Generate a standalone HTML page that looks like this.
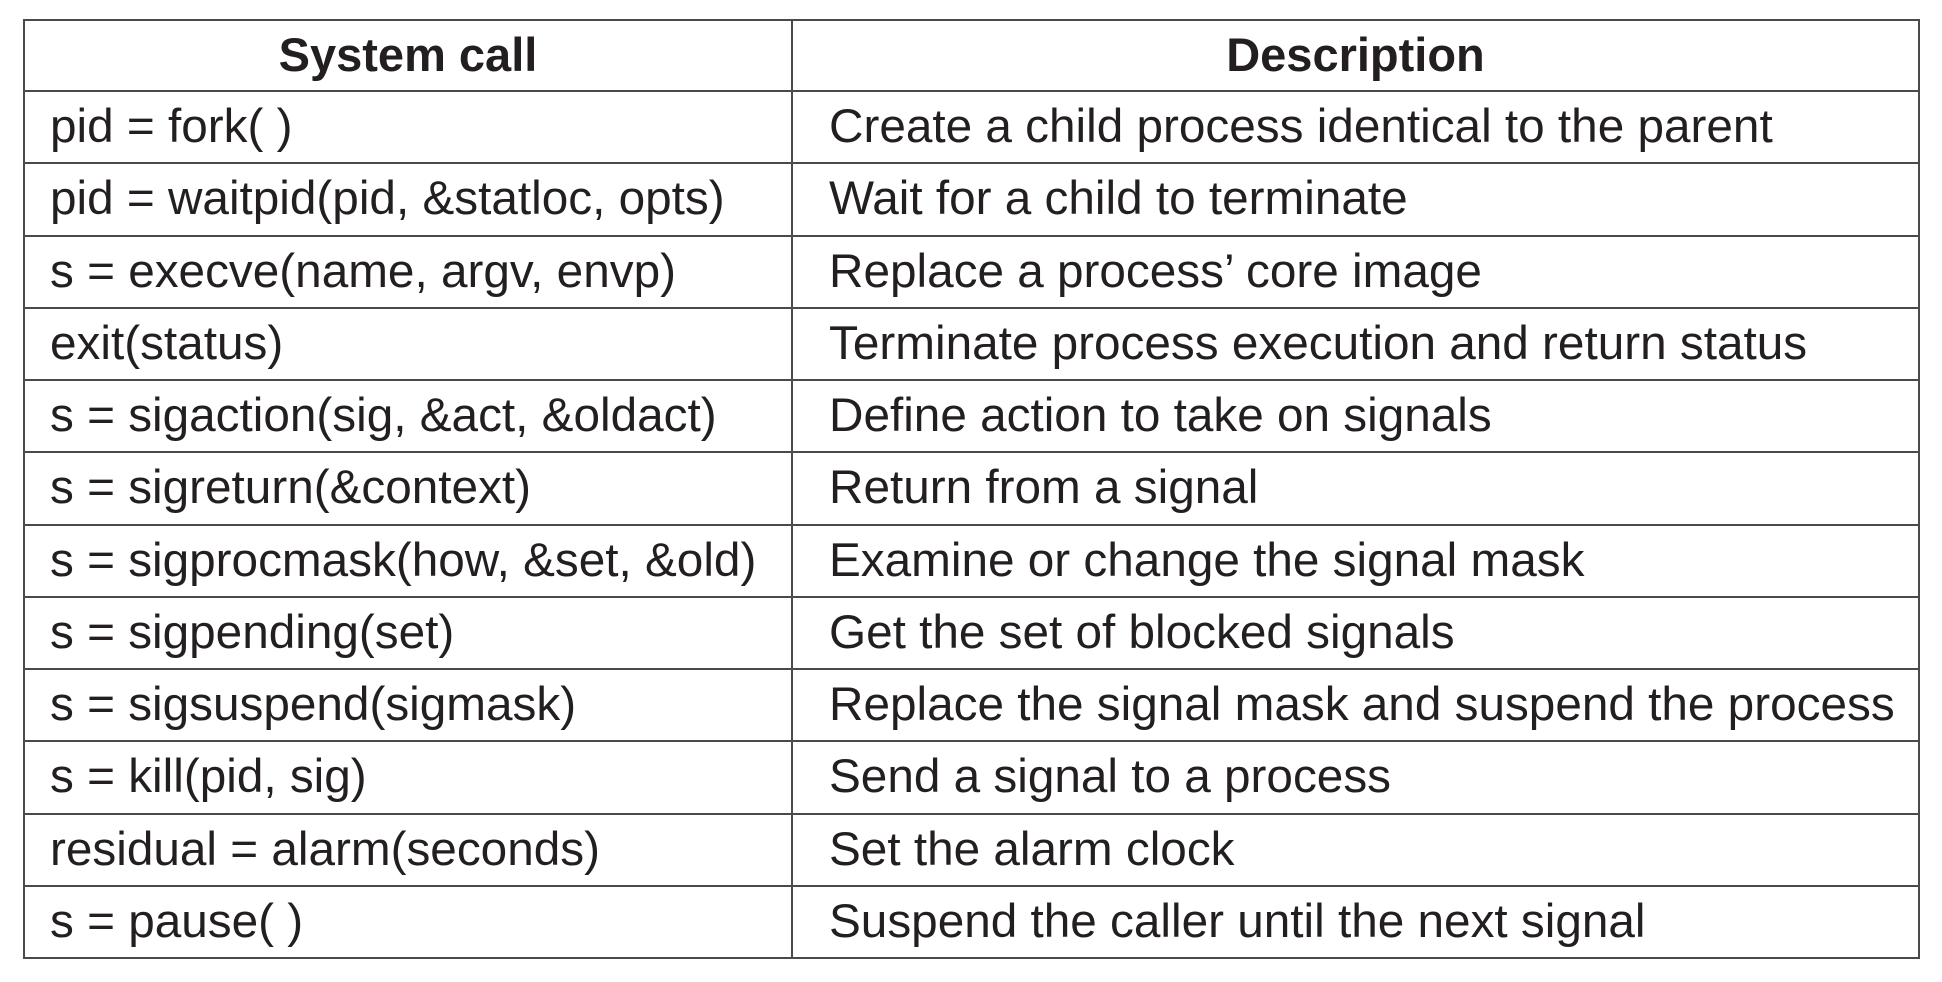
<!DOCTYPE html>
<html><head><style>
html,body{margin:0;padding:0;background:#fff;}
body{width:1942px;height:982px;position:relative;overflow:hidden;font-family:"Liberation Sans",Arial,sans-serif;color:#231f20;}
.h{position:absolute;left:24px;width:1896px;height:2px;background:#4a4a4a;}
.v{position:absolute;top:19px;height:940px;width:2px;background:#4a4a4a;}
.t{position:absolute;font-size:47.7px;line-height:72px;white-space:nowrap;margin-top:3px;}
.a{left:50px;} .b{left:829px;}
.hd{font-weight:bold;text-align:center;font-size:47px;margin-top:2px;}
</style></head><body>
<div class="v" style="left:23px"></div>
<div class="v" style="left:791px"></div>
<div class="v" style="left:1918px"></div>
<div class="h" style="top:19px"></div>
<div class="h" style="top:90px"></div>
<div class="h" style="top:162px"></div>
<div class="h" style="top:235px"></div>
<div class="h" style="top:307px"></div>
<div class="h" style="top:379px"></div>
<div class="h" style="top:451px"></div>
<div class="h" style="top:524px"></div>
<div class="h" style="top:596px"></div>
<div class="h" style="top:668px"></div>
<div class="h" style="top:740px"></div>
<div class="h" style="top:813px"></div>
<div class="h" style="top:885px"></div>
<div class="h" style="top:957px"></div>

<div class="t hd" style="top:17px;left:24px;width:768px">System call</div>
<div class="t hd" style="top:17px;left:792px;width:1127px">Description</div>

<div class="t a" style="top:88px">pid = fork( )</div><div class="t b" style="top:88px">Create a child process identical to the parent</div>
<div class="t a" style="top:160px">pid = waitpid(pid, &amp;statloc, opts)</div><div class="t b" style="top:160px">Wait for a child to terminate</div>
<div class="t a" style="top:233px">s = execve(name, argv, envp)</div><div class="t b" style="top:233px">Replace a process’ core image</div>
<div class="t a" style="top:305px">exit(status)</div><div class="t b" style="top:305px">Terminate process execution and return status</div>
<div class="t a" style="top:377px">s = sigaction(sig, &amp;act, &amp;oldact)</div><div class="t b" style="top:377px">Define action to take on signals</div>
<div class="t a" style="top:449px">s = sigreturn(&amp;context)</div><div class="t b" style="top:449px">Return from a signal</div>
<div class="t a" style="top:522px">s = sigprocmask(how, &amp;set, &amp;old)</div><div class="t b" style="top:522px">Examine or change the signal mask</div>
<div class="t a" style="top:594px">s = sigpending(set)</div><div class="t b" style="top:594px">Get the set of blocked signals</div>
<div class="t a" style="top:666px">s = sigsuspend(sigmask)</div><div class="t b" style="top:666px">Replace the signal mask and suspend the process</div>
<div class="t a" style="top:738px">s = kill(pid, sig)</div><div class="t b" style="top:738px">Send a signal to a process</div>
<div class="t a" style="top:811px">residual = alarm(seconds)</div><div class="t b" style="top:811px">Set the alarm clock</div>
<div class="t a" style="top:883px">s = pause( )</div><div class="t b" style="top:883px">Suspend the caller until the next signal</div>
</body></html>
